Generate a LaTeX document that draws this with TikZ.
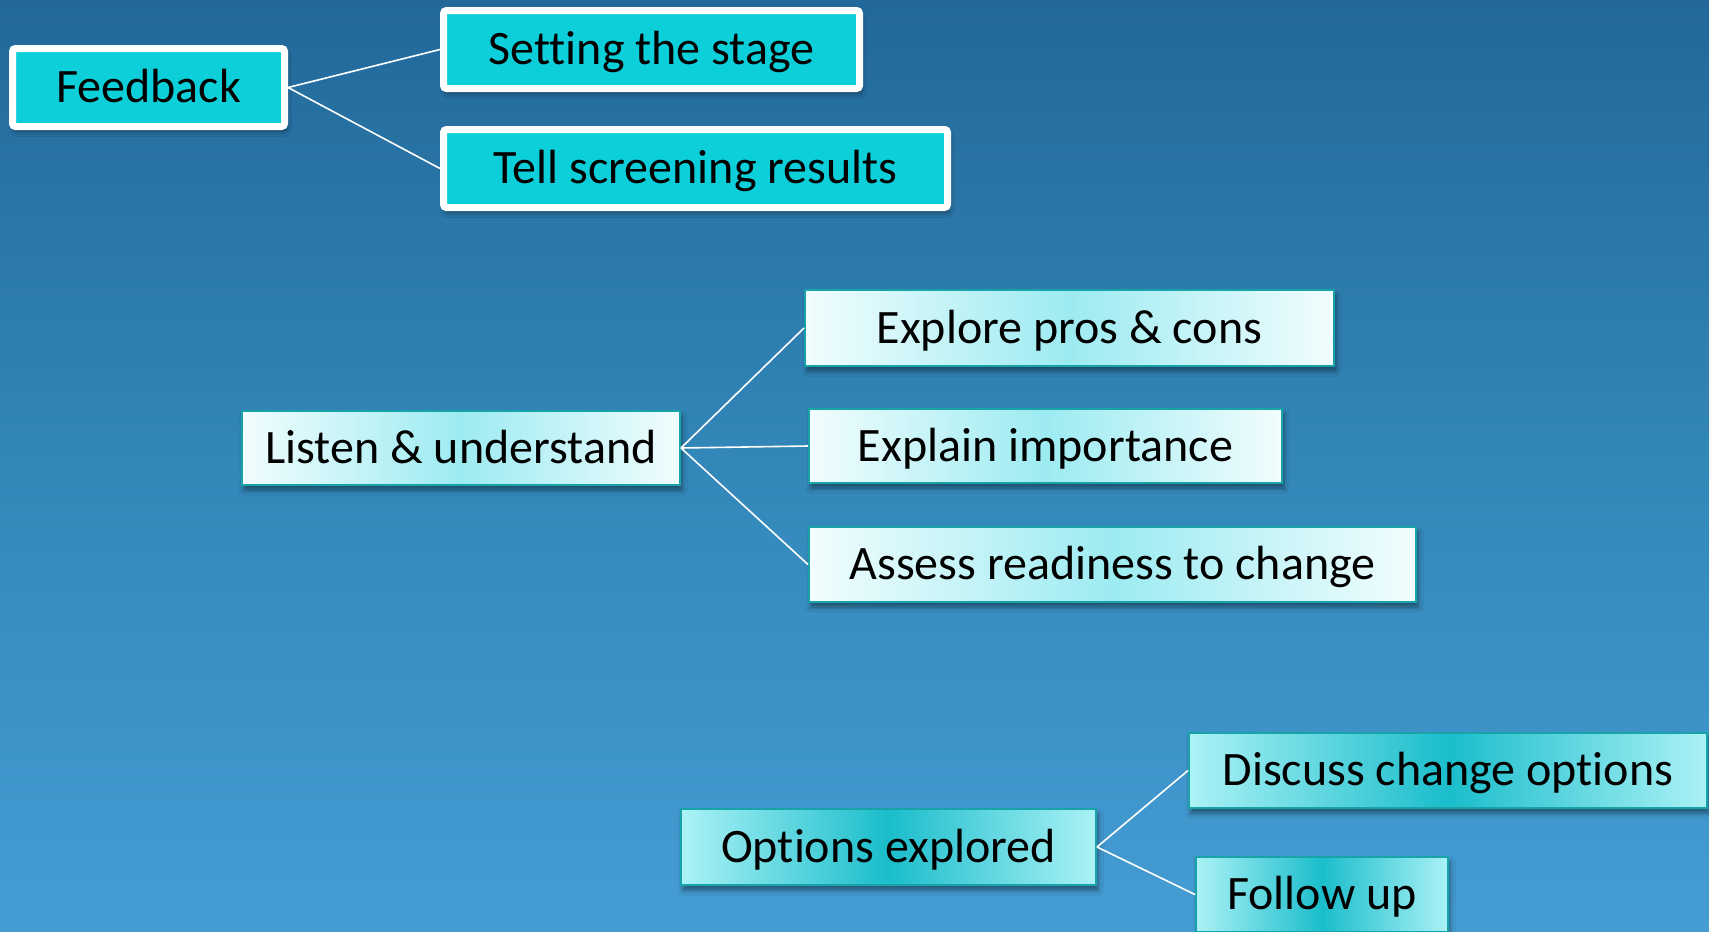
\documentclass[tikz,border=0pt]{standalone}
\usepackage{fontspec}
\setmainfont{Carlito}[Ligatures=NoCommon]
\usetikzlibrary{shadows.blur}

\definecolor{bgtop}{HTML}{22689A}
\definecolor{bgmid}{HTML}{3387B9}
\definecolor{bgbot}{HTML}{459DD4}
\definecolor{cyanfill}{HTML}{0CCFD9}
\definecolor{tealedge}{HTML}{17A3A8}
\definecolor{paleedge}{HTML}{F2FDFE}
\definecolor{palemid}{HTML}{9CEBF1}
\definecolor{deepedge}{HTML}{ABF2F6}
\definecolor{deepmid}{HTML}{1ABDCB}

\begin{document}
\begin{tikzpicture}[
  x=0.5pt, y=-0.5pt,
  every node/.style={font=\fontsize{24pt}{28pt}\selectfont, text=black,
    text height=17.5pt, text depth=2.5pt, inner sep=0pt, anchor=center},
  dropshade/.style={blur shadow={shadow xshift=1pt, shadow yshift=-2.5pt,
    shadow blur radius=2.5pt, shadow opacity=45}},
  % horizontal gradient: edges light, centre deeper (middle colour set last)
  hgrad/.style 2 args={left color=#1, right color=#1, middle color=#2},
  whitebox/.style={rectangle, rounded corners=1.5pt, draw=white,
    line width=3.5pt, fill=cyanfill, minimum height=39pt, dropshade},
  palebox/.style={rectangle, draw=tealedge, line width=1pt,
    hgrad={paleedge}{palemid}, minimum height=37.5pt, dropshade},
  deepbox/.style={rectangle, draw=tealedge, line width=1pt,
    hgrad={deepedge}{deepmid}, minimum height=37.5pt, dropshade},
  link/.style={draw=white, line width=0.8pt}
]
\useasboundingbox (0,0) rectangle (1709,932);
\clip (0,0) rectangle (1709,932);

% backdrop
\shade[top color=bgtop, bottom color=bgbot, middle color=bgmid]
  (0,0) rectangle (1709,932);

% first branch
\node[whitebox, minimum width=136pt] (fb) at (148.5,87.5) {Feedback};
\node[whitebox, minimum width=208pt] (stage) at (651.5,49.5) {Setting the stage};
\node[whitebox, minimum width=252pt] (tell) at (695.5,168.5) {Tell screening results};

% second branch
\node[palebox, minimum width=219pt, minimum height=37pt] (listen) at (461,448) {Listen \& understand};
\node[palebox, minimum width=264.5pt, minimum height=38pt] (pros) at (1069.5,328) {Explore pros \& cons};
\node[palebox, minimum width=236.5pt, minimum height=37pt] (explain) at (1045.5,446) {Explain importance};
\node[palebox, minimum width=303.5pt] (assess) at (1112.5,564.5) {Assess readiness to change};

% third branch
\node[deepbox, minimum width=207.5pt, minimum height=38pt] (opts) at (888.5,847) {Options explored};
\node[deepbox, minimum width=259pt] (discuss) at (1448,770.5) {Discuss change options};
\node[deepbox, minimum width=126pt] (follow) at (1322,894.5) {Follow up};

% connectors
\draw[link] (fb.east) -- (stage.west);
\draw[link] (fb.east) -- (tell.west);
\draw[link] (listen.east) -- (pros.west);
\draw[link] (listen.east) -- (explain.west);
\draw[link] (listen.east) -- (assess.west);
\draw[link] (opts.east) -- (discuss.west);
\draw[link] (opts.east) -- (follow.west);
\end{tikzpicture}
\end{document}
